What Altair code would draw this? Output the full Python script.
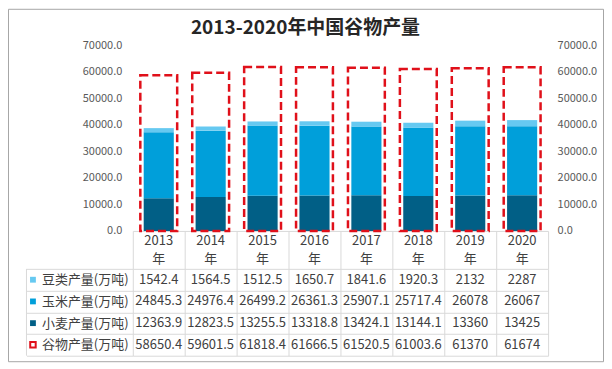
import altair as alt
import pandas as pd

years = ["2013", "2014", "2015", "2016", "2017", "2018", "2019", "2020"]
beans = [1542.4, 1564.5, 1512.5, 1650.7, 1841.6, 1920.3, 2132, 2287]
corn = [24845.3, 24976.4, 26499.2, 26361.3, 25907.1, 25717.4, 26078, 26067]
wheat = [12363.9, 12823.5, 13255.5, 13318.8, 13424.1, 13144.1, 13360, 13425]
grain = [58650.4, 59601.5, 61818.4, 61666.5, 61520.5, 61003.6, 61370, 61674]

s_beans = "豆类产量(万吨)"
s_corn = "玉米产量(万吨)"
s_wheat = "小麦产量(万吨)"
s_grain = "谷物产量(万吨)"
rows = [s_beans, s_corn, s_wheat, s_grain]
stack_series = [s_wheat, s_corn, s_beans]
stack_colors = ["#015f86", "#009fda", "#66c9f1"]
RED = "#e0101a"
FONT = "Noto Sans CJK SC"
GRID = "#d9d9d9"

recs = []
for i, y in enumerate(years):
    for k, (s, vals) in enumerate([(s_wheat, wheat), (s_corn, corn), (s_beans, beans)]):
        recs.append({"year": y, "series": s, "value": vals[i], "order": k})
stack_df = pd.DataFrame(recs)
grain_df = pd.DataFrame({"year": years, "value": grain})
year_df = pd.DataFrame({"year": years, "unit": ["年"] * len(years)})

table_recs = []
for i, y in enumerate(years):
    for s, vals in [(s_beans, beans), (s_corn, corn), (s_wheat, wheat), (s_grain, grain)]:
        table_recs.append({"year": y, "row": s, "text": str(vals[i])})
table_df = pd.DataFrame(table_recs)
legend_df = pd.DataFrame({"row": stack_series})

W = 416
H = 186
TH = 87
HEADER = 38

xscale = alt.Scale(domain=years, paddingInner=0, paddingOuter=0)
yscale = alt.Scale(domain=[0, 70000], nice=False, zero=True)

x_header_axis = alt.Axis(
    title=None, labels=False,
    tickBand="extent", tickSize=HEADER, tickColor=GRID, domainColor=GRID,
)

bars = alt.Chart(stack_df).mark_bar(width={"band": 0.58}).encode(
    x=alt.X("year:N", scale=xscale, axis=x_header_axis, sort=years),
    y=alt.Y("value:Q", stack="zero", scale=yscale,
            axis=alt.Axis(title=None, format=".1f", values=list(range(0, 70001, 10000)),
                          grid=False, domain=False, ticks=False, labelColor="#595959",
                          labelFontSize=11, labelFont=FONT, labelPadding=11)),
    color=alt.Color("series:N", scale=alt.Scale(domain=stack_series, range=stack_colors), legend=None),
    order=alt.Order("order:Q", sort="ascending"),
)

boxes = alt.Chart(grain_df).mark_bar(
    width={"band": 0.71}, fillOpacity=0, stroke=RED, strokeWidth=2.5, strokeDash=[8, 4]
).encode(
    x=alt.X("year:N", scale=xscale, sort=years),
    y=alt.Y("value:Q", scale=yscale,
            axis=alt.Axis(title=None, orient="right", format=".1f",
                          values=list(range(0, 70001, 10000)),
                          grid=False, domain=False, ticks=False, labelColor="#595959",
                          labelFontSize=11, labelFont=FONT, labelPadding=9)),
)

year_text = alt.Chart(year_df).mark_text(
    font=FONT, fontSize=13, color="#404040", align="center", baseline="middle"
).encode(
    x=alt.X("year:N", scale=xscale, sort=years), y=alt.value(H + 10), text="year:N"
)
unit_text = alt.Chart(year_df).mark_text(
    font=FONT, fontSize=13, color="#404040", align="center", baseline="middle"
).encode(
    x=alt.X("year:N", scale=xscale, sort=years), y=alt.value(H + 28), text="unit:N"
)

frame = alt.Chart(alt.Data(values=[{"t": "frame"}])).mark_rect(
    fillOpacity=0, stroke="#a6a6a6", strokeWidth=1
).encode(
    x=alt.value(-124.5), x2=alt.value(471.5), y=alt.value(-36), y2=alt.value(317)
)

title = alt.Chart(alt.Data(values=[{"t": "2013-2020年中国谷物产量"}])).mark_text(
    font=FONT, fontSize=19, fontWeight="bold", color="#262626", align="center", baseline="middle"
).encode(
    text="t:N", x=alt.value(173), y=alt.value(-17)
)

top = alt.layer(frame, bars, boxes, year_text, unit_text, title).resolve_scale(
    y="independent"
).properties(width=W, height=H)

cells = alt.Chart(table_df).mark_text(
    font=FONT, fontSize=13, color="#404040", align="center", baseline="middle"
).encode(
    x=alt.X("year:N", scale=xscale, sort=years,
            axis=alt.Axis(title=None, grid=True, tickBand="extent", gridColor=GRID,
                          labels=False, ticks=False, domain=False)),
    y=alt.Y("row:N", sort=rows, scale=alt.Scale(domain=rows, paddingInner=0, paddingOuter=0),
            axis=alt.Axis(title=None, grid=True, tickBand="extent", gridColor=GRID,
                          ticks=True, tickSize=106.5, tickColor=GRID, domain=False,
                          labelAlign="left", labelPadding=-15, labelFont=FONT,
                          labelFontSize=13, labelColor="#404040")),
    text="text:N",
)

swatches = alt.Chart(legend_df).mark_point(shape="square", filled=True, size=34, opacity=1).encode(
    x=alt.value(-100),
    y=alt.Y("row:N", sort=rows, scale=alt.Scale(domain=rows, paddingInner=0, paddingOuter=0)),
    color=alt.Color("row:N", scale=alt.Scale(domain=stack_series, range=stack_colors), legend=None),
)

grain_swatch = alt.Chart(pd.DataFrame({"row": [s_grain]})).mark_point(
    shape="square", filled=False, size=30, stroke=RED, strokeWidth=2, opacity=1
).encode(
    x=alt.value(-100),
    y=alt.Y("row:N", sort=rows, scale=alt.Scale(domain=rows, paddingInner=0, paddingOuter=0)),
)

left_edge = alt.Chart(alt.Data(values=[{"t": "edge"}])).mark_rule(color=GRID).encode(
    x=alt.value(-106.5), y=alt.value(0), y2=alt.value(TH)
)

table = alt.layer(cells, swatches, grain_swatch, left_edge).properties(width=W, height=TH)

chart = alt.vconcat(top, table, spacing=HEADER, bounds="flush").properties(
    padding=0, background="white"
).configure_view(stroke=None)

chart.save("out.html", embed_options={"renderer": "svg", "actions": False})
